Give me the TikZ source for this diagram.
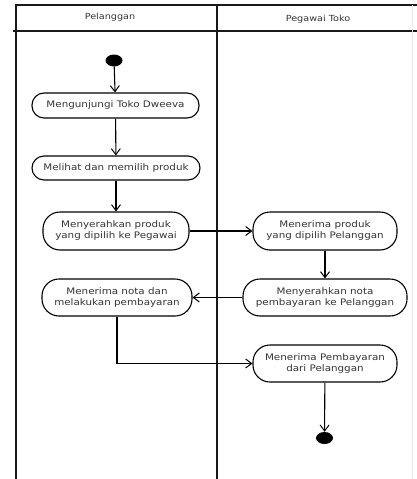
\documentclass[tikz,border=0pt]{standalone}
\usepackage{fontspec}
\setmainfont{DejaVu Sans}[FakeStretch=1.15]
\usetikzlibrary{arrows.meta,shapes.geometric}
\begin{document}
\begin{tikzpicture}[x=1pt,y=-1pt,
  lane/.style={line width=1.8pt,black!90},
  act/.style={draw,line width=1.1pt,rounded corners=12pt,inner sep=0pt,
    align=center,font=\fontsize{9}{11}\selectfont,text=black!80},
  twoline/.style={rounded corners=17pt},
  flow/.style={line width=1.1pt,-{Straight Barb[length=6pt,width=9pt,line width=1pt]}},
  dot/.style={ellipse,fill=black,inner sep=0pt,minimum width=17pt,minimum height=12pt},
  lanetitle/.style={font=\fontsize{8.4}{10}\selectfont,text=black!80}]
\useasboundingbox (0,0) rectangle (417,479);
% swimlane frame
\draw[lane] (16,479) -- (16,5) -- (417,5);
\draw[lane] (13,31) -- (417,31);
\draw[lane] (217,5) -- (217,479);
\draw[black!8,line width=1pt] (412,5) -- (412,479);
\node[lanetitle] (lp) at (110,17) {Pelanggan};
\node[lanetitle] (lt) at (318,19) {Pegawai Toko};
% activities
\node[dot] (start) at (114,60.5) {};
\node[act,minimum width=167pt,minimum height=25pt] (n1) at (115.5,105.5) {Mengunjungi Toko Dweeva};
\node[act,minimum width=168pt,minimum height=24pt] (n2) at (116,168) {Melihat dan memilih produk};
\node[act,twoline,minimum width=146pt,minimum height=38pt] (n3) at (116,231) {Menyerahkan produk\\yang dipilih ke Pegawai};
\node[act,twoline,minimum width=144pt,minimum height=38pt] (n4) at (325,231) {Menerima produk\\yang dipilih Pelanggan};
\node[act,twoline,minimum width=164pt,minimum height=37pt] (n5) at (325,297.5) {Menyerahkan nota\\pembayaran ke Pelanggan};
\node[act,twoline,minimum width=150pt,minimum height=37pt] (n6) at (117,297.5) {Menerima nota dan\\melakukan pembayaran};
\node[act,twoline,minimum width=144pt,minimum height=37pt] (n7) at (325,363.5) {Menerima Pembayaran\\dari Pelanggan};
\node[dot] (end) at (324.5,438) {};
% control flow
\draw[flow] (start) -- (n1);
\draw[flow] (n1) -- (n2);
\draw[flow] (n2) -- (n3);
\draw[flow] (n3) -- (n4);
\draw[flow] (n4) -- (n5);
\draw[flow] (n5) -- (n6);
\draw[flow] (n6.south) -- (n6.south |- n7.west) -- (n7.west);
\draw[flow] (n7) -- (end);
\end{tikzpicture}
\end{document}
